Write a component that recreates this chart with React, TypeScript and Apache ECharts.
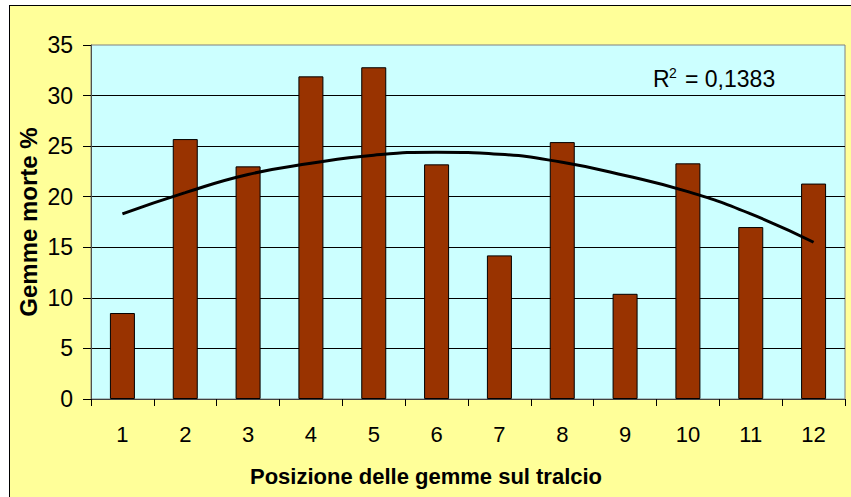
import React, { useEffect, useRef } from "react";
import * as echarts from "echarts";

const categories = ["1", "2", "3", "4", "5", "6", "7", "8", "9", "10", "11", "12"];
const gemmeMorte = [8.5, 25.7, 23.0, 31.9, 32.8, 23.2, 14.2, 25.4, 10.4, 23.3, 17.0, 21.3];
const trendValues = [18.3, 20.4, 22.2, 23.3, 24.1, 24.4, 24.2, 23.4, 22.1, 20.5, 18.3, 15.5];
const yTicks = { min: 0, max: 35, interval: 5 };
const xTitle = "Posizione delle gemme sul tralcio";
const yTitle = "Gemme morte %";
const r2Label = "= 0,1383";

const FONT = "Liberation Sans, Arial, sans-serif";

export default function App() {
  const ref = useRef<HTMLDivElement>(null);
  useEffect(() => {
    if (!ref.current) return;
    const chart = echarts.init(ref.current, undefined, { renderer: "svg" });
    chart.setOption({
      animation: false,
      backgroundColor: "transparent",
      grid: {
        left: 91,
        top: 45,
        right: 6,
        bottom: 98,
        show: true,
        backgroundColor: "#CCFFFF",
        borderColor: "#808080",
        borderWidth: 1,
      },
      xAxis: {
        type: "category",
        data: categories,
        boundaryGap: true,
        axisLine: { show: true, lineStyle: { color: "#404040", width: 1 } },
        axisTick: { show: true, length: 7, inside: false, lineStyle: { color: "#000" } },
        axisLabel: { color: "#000", fontSize: 22, fontFamily: FONT, margin: 24 },
        splitLine: { show: false },
      },
      yAxis: {
        type: "value",
        min: yTicks.min,
        max: yTicks.max,
        interval: yTicks.interval,
        axisLine: { show: true, lineStyle: { color: "#505050", width: 1 } },
        axisTick: { show: true, length: 8, inside: false, lineStyle: { color: "#000" } },
        axisLabel: { color: "#000", fontSize: 23, fontFamily: FONT, margin: 18 },
        splitLine: { show: true, showMaxLine: false, lineStyle: { color: "#000", width: 1 } },
      },
      series: [
        {
          type: "bar",
          data: gemmeMorte,
          barWidth: 25,
          itemStyle: { color: "#993300", borderColor: "#000", borderWidth: 1 },
          z: 2,
        },
        {
          type: "line",
          data: trendValues,
          smooth: true,
          showSymbol: false,
          symbol: "none",
          lineStyle: { color: "#000", width: 3 },
          z: 3,
        },
      ],
      graphic: [
        {
          type: "text",
          x: 426,
          y: 476,
          style: {
            text: xTitle,
            fontSize: 22,
            fontWeight: "bold",
            fontFamily: FONT,
            fill: "#000",
            align: "center",
            verticalAlign: "middle",
          },
        },
        {
          type: "text",
          x: 28,
          y: 222,
          rotation: Math.PI / 2,
          style: {
            text: yTitle,
            fontSize: 24,
            fontWeight: "bold",
            fontFamily: FONT,
            fill: "#000",
            align: "center",
            verticalAlign: "middle",
          },
        },
        {
          type: "text",
          x: 653,
          y: 90,
          style: {
            text: "R",
            fontSize: 23,
            fontFamily: FONT,
            fill: "#000",
            align: "left",
            verticalAlign: "bottom",
          },
        },
        {
          type: "text",
          x: 669,
          y: 80,
          style: {
            text: "2",
            fontSize: 14,
            fontFamily: FONT,
            fill: "#000",
            align: "left",
            verticalAlign: "bottom",
          },
        },
        {
          type: "text",
          x: 685,
          y: 90,
          style: {
            text: r2Label,
            fontSize: 23,
            fontFamily: FONT,
            fill: "#000",
            align: "left",
            verticalAlign: "bottom",
          },
        },
      ],
    });
    return () => chart.dispose();
  }, []);

  return (
    <div
      style={{
        position: "fixed",
        left: 0,
        top: 0,
        width: 851,
        height: 497,
        background: "#FFFFFF",
        overflow: "hidden",
      }}
    >
      <div
        style={{
          position: "absolute",
          left: 9,
          top: 5,
          width: 900,
          height: 600,
          background: "#FFFF99",
          border: "1px solid #000",
          boxSizing: "border-box",
        }}
      />
      <div
        ref={ref}
        style={{ position: "absolute", left: 0, top: 0, width: 851, height: 497 }}
      />
    </div>
  );
}
